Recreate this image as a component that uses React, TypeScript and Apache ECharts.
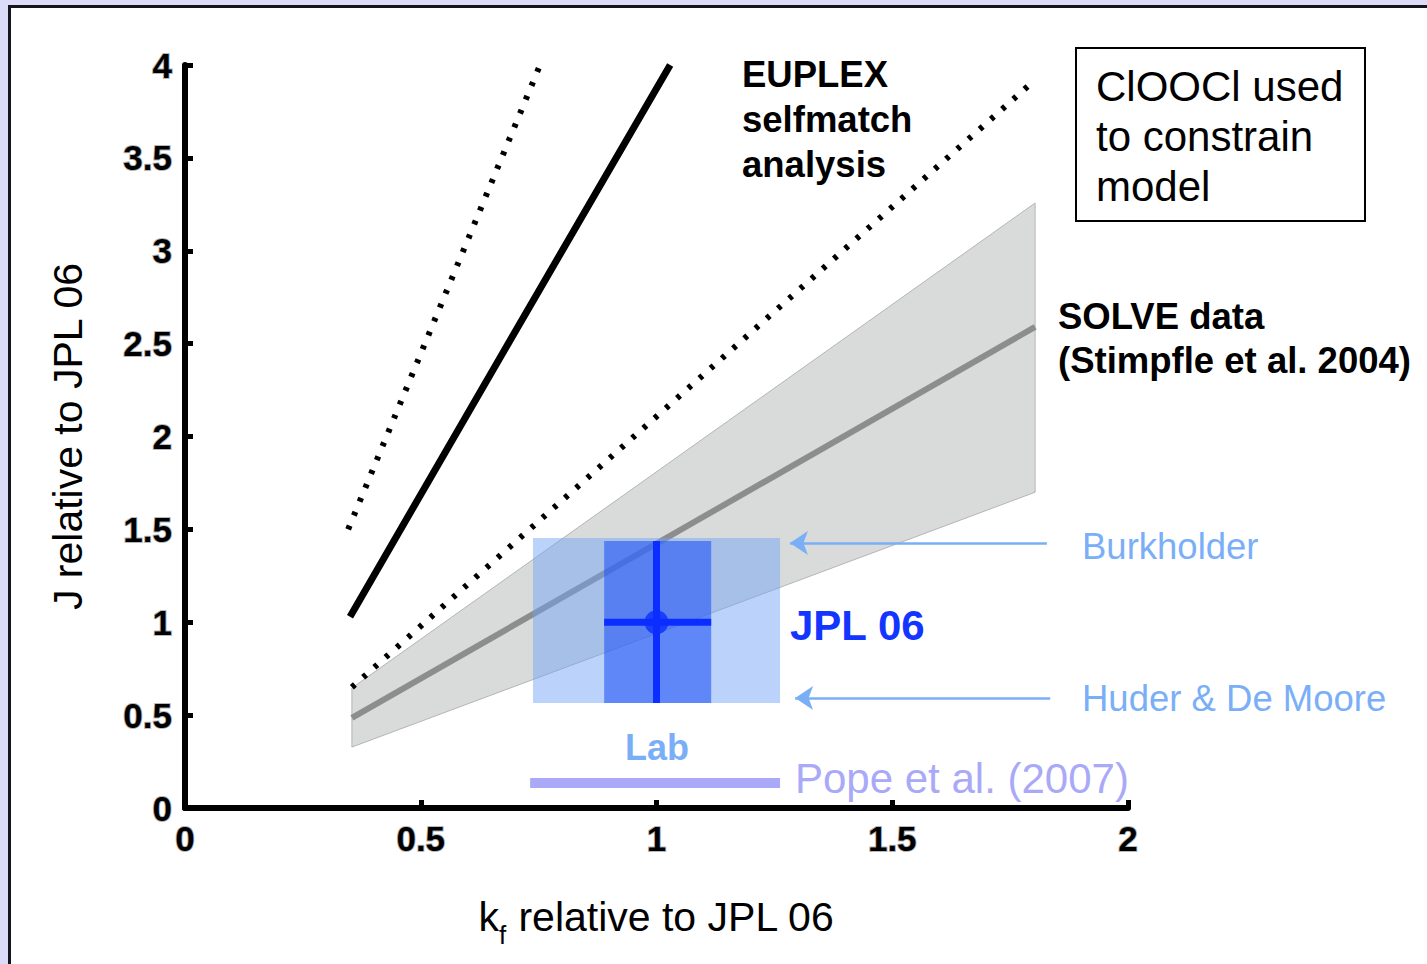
import React, { useEffect, useRef } from "react";
import * as echarts from "echarts";

// Axis ticks
const xTicks = [0, 0.5, 1, 1.5, 2];
const yTicks = [0, 0.5, 1, 1.5, 2, 2.5, 3, 3.5, 4];

// SOLVE data (Stimpfle et al. 2004): best fit and uncertainty band
const solveX = [0.354, 1.803];
const solveY = [0.485, 2.59];
const bandUpper = [0.646, 3.257];
const bandLower = [0.328, 1.7];

// EUPLEX selfmatch analysis: best estimate and bounds
const euplexX = [0.35, 0.69, 1.029];
const euplexY = [1.03, 2.52, 4.0];
const euplexUpperX = [0.346, 0.753];
const euplexUpperY = [1.5, 4.0];
const euplexLowerX = [0.354, 1.803];
const euplexLowerY = [0.65, 3.92];

// Lab ranges: [kf min, kf max, J min, J max]
const labRange = [0.738, 1.262, 0.565, 1.454];
const jplRange = [0.889, 1.116, 0.565, 1.437];
const jplCentre = [1.0, 1.0];

// Pope et al. (2007) kf range at J level
const popeX = [0.732, 1.262];
const popeY = 0.135;

// Arrows pointing at the Burkholder / Huder & De Moore limits
const burkholderArrow = [[1.828, 1.427], [1.283, 1.427]];
const huderArrow = [[1.835, 0.592], [1.294, 0.592]];

const FONT = '"Liberation Sans", Arial, Helvetica, sans-serif';
const LIGHT_BLUE = "#7aaff8";
const BRIGHT_BLUE = "#0b2dff";

function zip(xs: number[], ys: number[]) {
  return xs.map((x, i) => [x, ys[i]]);
}

export default function App() {
  const ref = useRef<HTMLDivElement>(null);

  useEffect(() => {
    if (!ref.current) return;
    const chart = echarts.init(ref.current, null, { renderer: "svg" });

    const rectItem = (kind: string, z: number) => ({
      type: "custom",
      coordinateSystem: "cartesian2d",
      z,
      silent: true,
      encode: { x: [0, 1], y: [2, 3] },
      data: [kind === "light" ? labRange : jplRange],
      renderItem: (_p: any, api: any) => {
        const tl = api.coord([api.value(0), api.value(3)]);
        const br = api.coord([api.value(1), api.value(2)]);
        return {
          type: "rect",
          shape: { x: tl[0], y: tl[1], width: br[0] - tl[0], height: br[1] - tl[1] },
          style: {
            fill: kind === "light" ? "rgba(112,164,246,0.48)" : "rgba(40,88,245,0.62)",
          },
        };
      },
    });

    const tickLabel = {
      fontSize: 35,
      fontWeight: "bold",
      color: "#000",
      fontFamily: FONT,
      textBorderColor: "rgba(0,0,0,0.3)",
      textBorderWidth: 2,
    };

    const option: any = {
      animation: false,
      backgroundColor: "transparent",
      textStyle: { fontFamily: FONT },
      grid: { left: 185, top: 65, width: 943, height: 743 },
      xAxis: {
        type: "value",
        min: 0,
        max: 2,
        interval: 0.5,
        splitLine: { show: false },
        axisLine: { onZero: false, lineStyle: { color: "#000", width: 6 } },
        axisTick: { inside: true, length: 8, lineStyle: { color: "#000", width: 5 } },
        axisLabel: { ...tickLabel, margin: 13, customValues: xTicks },
        name: "{a|k}{b|f}{a| relative to JPL 06}",
        nameLocation: "middle",
        nameGap: 88,
        nameTextStyle: {
          rich: {
            a: { fontSize: 41, color: "#000", fontFamily: FONT, lineHeight: 52, verticalAlign: "top" },
            b: { fontSize: 26, color: "#000", fontFamily: FONT, lineHeight: 52, verticalAlign: "bottom" },
          },
        },
      },
      yAxis: {
        type: "value",
        min: 0,
        max: 4,
        interval: 0.5,
        splitLine: { show: false },
        axisLine: { onZero: false, lineStyle: { color: "#000", width: 6 } },
        axisTick: { inside: true, length: 8, lineStyle: { color: "#000", width: 5 } },
        axisLabel: { ...tickLabel, margin: 13, customValues: yTicks },
        name: "J relative to JPL 06",
        nameLocation: "middle",
        nameGap: 97,
        nameTextStyle: { fontSize: 41, color: "#000", fontFamily: FONT },
      },
      series: [
        {
          type: "custom",
          coordinateSystem: "cartesian2d",
          z: 1,
          silent: true,
          data: [[solveX[0], bandLower[0]]],
          renderItem: (_p: any, api: any) => {
            const top = solveX.map((x, i) => api.coord([x, bandUpper[i]]));
            const bottom = solveX.map((x, i) => api.coord([x, bandLower[i]])).reverse();
            return {
              type: "polygon",
              shape: { points: top.concat(bottom) },
              style: { fill: "#d9dbdb", stroke: "#b4b4b4", lineWidth: 1 },
            };
          },
        },
        {
          type: "line",
          z: 2,
          silent: true,
          symbol: "none",
          data: zip(solveX, solveY),
          lineStyle: { color: "#8d8d8d", width: 6, cap: "butt" },
        },
        rectItem("light", 3),
        rectItem("dark", 4),
        {
          type: "line",
          z: 5,
          silent: true,
          symbol: "none",
          data: [[jplCentre[0], jplRange[2]], [jplCentre[0], jplRange[3]]],
          lineStyle: { color: BRIGHT_BLUE, width: 7, cap: "butt" },
        },
        {
          type: "line",
          z: 5,
          silent: true,
          symbol: "none",
          data: [[jplRange[0], jplCentre[1]], [jplRange[1], jplCentre[1]]],
          lineStyle: { color: BRIGHT_BLUE, width: 7, cap: "butt" },
        },
        {
          type: "scatter",
          z: 6,
          silent: true,
          symbol: "circle",
          symbolSize: 24,
          data: [jplCentre],
          itemStyle: { color: BRIGHT_BLUE },
        },
        {
          type: "line",
          z: 5,
          silent: true,
          symbol: "none",
          data: [[popeX[0], popeY], [popeX[1], popeY]],
          lineStyle: { color: "#a9a9f8", width: 10, cap: "butt" },
        },
        {
          type: "line",
          z: 7,
          silent: true,
          symbol: "none",
          data: zip(euplexX, euplexY),
          lineStyle: { color: "#000", width: 7, cap: "butt" },
        },
        {
          type: "line",
          z: 7,
          silent: true,
          symbol: "none",
          data: zip(euplexUpperX, euplexUpperY),
          lineStyle: { color: "#000", width: 6, type: [4, 11], cap: "butt" },
        },
        {
          type: "line",
          z: 7,
          silent: true,
          symbol: "none",
          data: zip(euplexLowerX, euplexLowerY),
          lineStyle: { color: "#000", width: 6, type: [4, 11], cap: "butt" },
        },
        {
          type: "lines",
          coordinateSystem: "cartesian2d",
          z: 7,
          silent: true,
          symbol: ["none", "arrow"],
          symbolSize: [14, 18],
          lineStyle: { color: LIGHT_BLUE, width: 2.5, opacity: 1, curveness: 0 },
          data: [{ coords: burkholderArrow }, { coords: huderArrow }],
        },
      ],
      graphic: [
        {
          type: "text",
          x: 742,
          y: 52,
          style: {
            text: "EUPLEX\nselfmatch\nanalysis",
            font: `bold 36.5px ${FONT}`,
            lineHeight: 45,
            fill: "#000",
            align: "left",
            verticalAlign: "top",
          },
        },
        {
          type: "rect",
          shape: { x: 1076, y: 48, width: 289, height: 173 },
          style: { fill: "#fff", stroke: "#000", lineWidth: 2 },
        },
        {
          type: "text",
          x: 1096,
          y: 61,
          style: {
            text: "ClOOCl used\nto constrain\nmodel",
            font: `42px ${FONT}`,
            lineHeight: 50,
            fill: "#000",
            align: "left",
            verticalAlign: "top",
          },
        },
        {
          type: "text",
          x: 1058,
          y: 294,
          style: {
            text: "SOLVE data\n(Stimpfle et al. 2004)",
            font: `bold 36.5px ${FONT}`,
            lineHeight: 44,
            fill: "#000",
            align: "left",
            verticalAlign: "top",
          },
        },
        {
          type: "text",
          x: 1082,
          y: 546,
          style: { text: "Burkholder", font: `36.5px ${FONT}`, fill: LIGHT_BLUE, align: "left", verticalAlign: "middle" },
        },
        {
          type: "text",
          x: 1082,
          y: 698,
          style: { text: "Huder & De Moore", font: `36.5px ${FONT}`, fill: LIGHT_BLUE, align: "left", verticalAlign: "middle" },
        },
        {
          type: "text",
          x: 790,
          y: 625,
          style: { text: "JPL 06", font: `bold 42px ${FONT}`, fill: "#1236ff", align: "left", verticalAlign: "middle" },
        },
        {
          type: "text",
          x: 657,
          y: 747,
          style: { text: "Lab", font: `bold 36px ${FONT}`, fill: LIGHT_BLUE, align: "center", verticalAlign: "middle" },
        },
        {
          type: "text",
          x: 795,
          y: 778,
          style: { text: "Pope et al. (2007)", font: `42px ${FONT}`, fill: "#a9a9f8", align: "left", verticalAlign: "middle" },
        },
      ],
    };

    chart.setOption(option);
    return () => chart.dispose();
  }, []);

  return (
    <div
      style={{
        position: "absolute",
        left: 0,
        top: 0,
        width: 1427,
        height: 964,
        overflow: "hidden",
        background: "#dddcf8",
      }}
    >
      <div
        style={{
          position: "absolute",
          left: 8,
          top: 5,
          width: 1430,
          height: 970,
          background: "#fff",
          borderLeft: "3px solid #15151f",
          borderTop: "3px solid #15151f",
        }}
      />
      <div ref={ref} style={{ position: "absolute", left: 0, top: 0, width: 1427, height: 964 }} />
    </div>
  );
}
